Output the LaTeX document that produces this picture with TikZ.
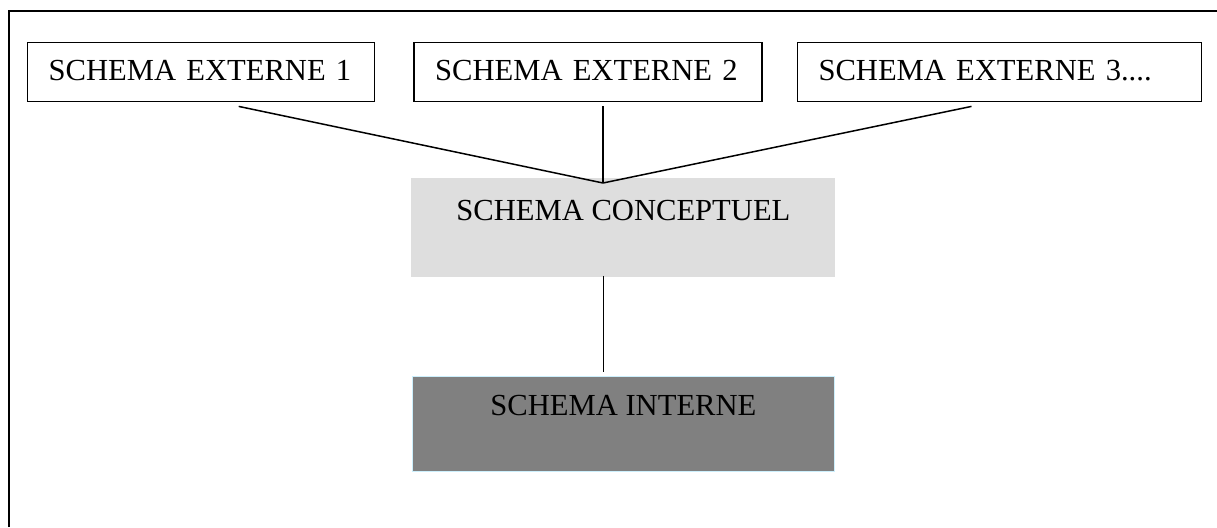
\documentclass[tikz,border=0pt]{standalone}
\usepackage{fontspec}
\setmainfont{Liberation Serif}
\usetikzlibrary{positioning}
\colorlet{conccol}{black!13}
\colorlet{intcol}{black!50}
\colorlet{intborder}{cyan!20}
\tikzset{
  schema/.style={inner sep=0pt,font=\fontsize{15.3}{18}\selectfont},
  extbox/.style={schema,draw=black,line width=0.7pt,text width=#1,align=left,inner xsep=10.5pt,text height=19pt,text depth=10.5pt},
  concbox/.style={schema,fill=conccol,minimum width=212pt,text height=21pt,text depth=28.5pt},
  intbox/.style={schema,fill=intcol,draw=intborder,line width=0.6pt,minimum width=211pt,text height=19.5pt,text depth=28pt},
  link/.style={line width=0.75pt},
  frame/.style={line width=1.3pt},
}

\begin{document}
\begin{tikzpicture}[x=0.5pt,y=-0.5pt]
    \useasboundingbox (0,0) rectangle (1217,527);
    \draw[frame] (9,527) -- (9,11) -- (1217,11);
    \node[extbox=152.5pt,anchor=north west] (ext1) at (27,42) {SCHEMA EXTERNE 1};
    \node[extbox=153pt,right=19pt of ext1] (ext2) {SCHEMA EXTERNE 2};
    \node[extbox=181pt,right=17pt of ext2] (ext3) {SCHEMA EXTERNE 3....};
    \node[concbox,anchor=north west] (concept) at (411,178) {SCHEMA CONCEPTUEL};
    \node[intbox,below=49pt of concept] (interne) {SCHEMA INTERNE};
    \coordinate (apex) at (603,183);
    \draw[link] ([xshift=18.75pt,yshift=-2pt]ext1.south) -- (apex);
    \draw[link] (apex |- ext2.south) ++(0,4) -- (apex);
    \draw[link] ([xshift=-14pt,yshift=-2pt]ext3.south) -- (apex);
    \draw[link] ([xshift=-10pt,yshift=1pt]concept.south) -- ([xshift=-10pt,yshift=2pt]interne.north);
\end{tikzpicture}
\end{document}
